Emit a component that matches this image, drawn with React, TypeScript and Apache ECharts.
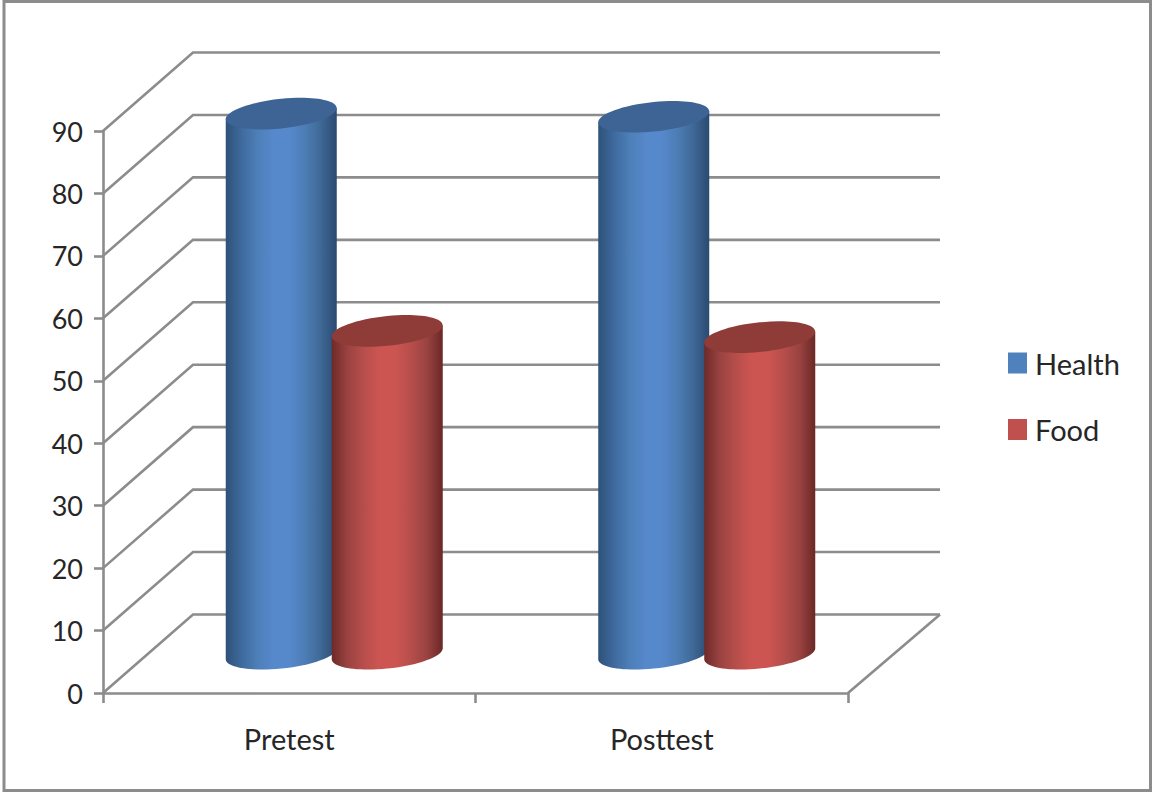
import React, { useEffect, useRef } from "react";
import * as echarts from "echarts";

const categories = ["Pretest", "Posttest"];
const healthValues = [86.5, 86];
const foodValues = [51.7, 50.7];
const gridValues = [0, 10, 20, 30, 40, 50, 60, 70, 80, 90];

const FONT = "Lato, 'Noto Sans', sans-serif";
const LINE = "#8c8c8c";
const TEXT = "#262626";

// Projection of the chart's depth: how far the back wall sits from the front plane.
const DEPTH_X = 90;
const DEPTH_Y = 78.5;
const RIGHT_OVERHANG = 2;
const BAR_OFFSET = 53;
const RADIUS_X = 55.5;
const RADIUS_Y = 14.8;
const TILT = 5.5;

// Point on a sheared ellipse, used for the cylinder's caps and base.
const K = 0.5523;
function capPath(cx: number, cy: number) {
  const p = (a: number, b: number) =>
    `${cx + a * RADIUS_X} ${cy + b * RADIUS_Y - a * TILT}`;
  return (
    `M${p(-1, 0)} C${p(-1, -K)} ${p(-K, -1)} ${p(0, -1)} ` +
    `C${p(K, -1)} ${p(1, -K)} ${p(1, 0)} ` +
    `C${p(1, K)} ${p(K, 1)} ${p(0, 1)} ` +
    `C${p(-K, 1)} ${p(-1, K)} ${p(-1, 0)} Z`
  );
}
function bodyPath(cx: number, topY: number, baseY: number) {
  const p = (a: number, b: number) =>
    `${cx + a * RADIUS_X} ${baseY + b * RADIUS_Y - a * TILT}`;
  return (
    `M${cx - RADIUS_X} ${topY + TILT} L${p(-1, 0)} ` +
    `C${p(-1, K)} ${p(-K, 1)} ${p(0, 1)} ` +
    `C${p(K, 1)} ${p(1, K)} ${p(1, 0)} ` +
    `L${cx + RADIUS_X} ${topY - TILT} Z`
  );
}

function cylinderSeries(
  name: string,
  values: number[],
  side: number,
  legendColor: string,
  capColor: string,
  stops: string[],
) {
  return {
    type: "custom",
    name,
    z: 3,
    clip: false,
    itemStyle: { color: legendColor },
    data: values.map((v, i) => [i, v]),
    encode: { x: 0, y: 1 },
    renderItem: (_: any, api: any) => {
      const top = api.coord([api.value(0), api.value(1)]);
      const base = api.coord([api.value(0), 0]);
      const cx = top[0] + DEPTH_X / 2 + side * BAR_OFFSET;
      const topY = top[1] - DEPTH_Y / 2;
      const baseY = base[1] - DEPTH_Y / 2;
      const fill = new echarts.graphic.LinearGradient(
        0, 0, 1, 0,
        stops.map((color, i) => ({ offset: i / (stops.length - 1), color })),
      );
      return {
        type: "group",
        children: [
          { type: "path", shape: { pathData: bodyPath(cx, topY, baseY) }, style: { fill } },
          { type: "path", shape: { pathData: capPath(cx, topY) }, style: { fill: capColor } },
        ],
      };
    },
  };
}

const wallSeries = {
  type: "custom",
  name: "wall",
  z: 1,
  silent: true,
  clip: false,
  data: gridValues.map((v) => [0, v]),
  encode: { x: 0, y: 1 },
  renderItem: (params: any, api: any) => {
    const y = api.coord([0, api.value(1)])[1];
    const left = params.coordSys.x;
    const right = left + params.coordSys.width;
    const lineStyle = { stroke: LINE, lineWidth: 2.6, fill: "none" };
    const children: any[] = [
      {
        type: "polyline",
        shape: {
          points: [
            [left, y],
            [left + DEPTH_X, y - DEPTH_Y],
            [right + DEPTH_X + RIGHT_OVERHANG, y - DEPTH_Y],
          ],
        },
        style: lineStyle,
      },
    ];
    if (api.value(1) === 0) {
      children.push({
        type: "line",
        shape: { x1: right, y1: y, x2: right + DEPTH_X + RIGHT_OVERHANG, y2: y - DEPTH_Y },
        style: lineStyle,
      });
    }
    return { type: "group", children };
  },
};

export default function App() {
  const ref = useRef<HTMLDivElement>(null);

  useEffect(() => {
    document.body.style.margin = "0";
    const chart = echarts.init(ref.current!, undefined, { renderer: "svg" });
    chart.setOption({
      animation: false,
      backgroundColor: "#ffffff",
      grid: { left: 103, top: 131, width: 745, height: 562, containLabel: false },
      graphic: [
        {
          type: "rect",
          z: 0,
          shape: { x: 4, y: 1.5, width: 1146.5, height: 789 },
          style: { fill: "none", stroke: "#8c8c8c", lineWidth: 3 },
        },
      ],
      legend: {
        orient: "vertical",
        left: 1003,
        top: 343.5,
        itemWidth: 19,
        itemHeight: 21,
        itemGap: 37.5,
        icon: "rect",
        selectedMode: false,
        data: ["Health", "Food"],
        textStyle: { fontFamily: FONT, fontSize: 29, color: TEXT, padding: [0, 0, 0, 3] },
      },
      xAxis: {
        type: "category",
        data: categories,
        boundaryGap: true,
        axisLine: { show: true, lineStyle: { color: LINE, width: 2.6 } },
        axisTick: { show: true, alignWithLabel: false, length: 10, lineStyle: { color: LINE, width: 2.6 } },
        axisLabel: { fontFamily: FONT, fontSize: 29, color: TEXT, margin: 31 },
        splitLine: { show: false },
      },
      yAxis: {
        type: "value",
        min: 0,
        max: 90,
        interval: 10,
        axisLine: { show: true, lineStyle: { color: LINE, width: 2.6 } },
        axisTick: { show: true, length: 9, lineStyle: { color: LINE, width: 2.6 } },
        axisLabel: { fontFamily: FONT, fontSize: 27, color: TEXT, margin: 20 },
        splitLine: { show: false },
      },
      series: [
        wallSeries,
        cylinderSeries("Health", healthValues, -1, "#4f81bd", "#3d6494", [
          "#2e5179", "#3f6a9e", "#4d7fb8", "#5688cc", "#5688cc", "#4d7db5", "#3f6896", "#2a4a70",
        ]),
        cylinderSeries("Food", foodValues, 1, "#c0504d", "#8f3c39", [
          "#6e2a28", "#9a4341", "#b64e4b", "#cd5551", "#cd5551", "#b64e4b", "#9a4341", "#6a2826",
        ]),
      ],
    });
    return () => chart.dispose();
  }, []);

  return <div ref={ref} style={{ width: 1152, height: 792 }} />;
}
